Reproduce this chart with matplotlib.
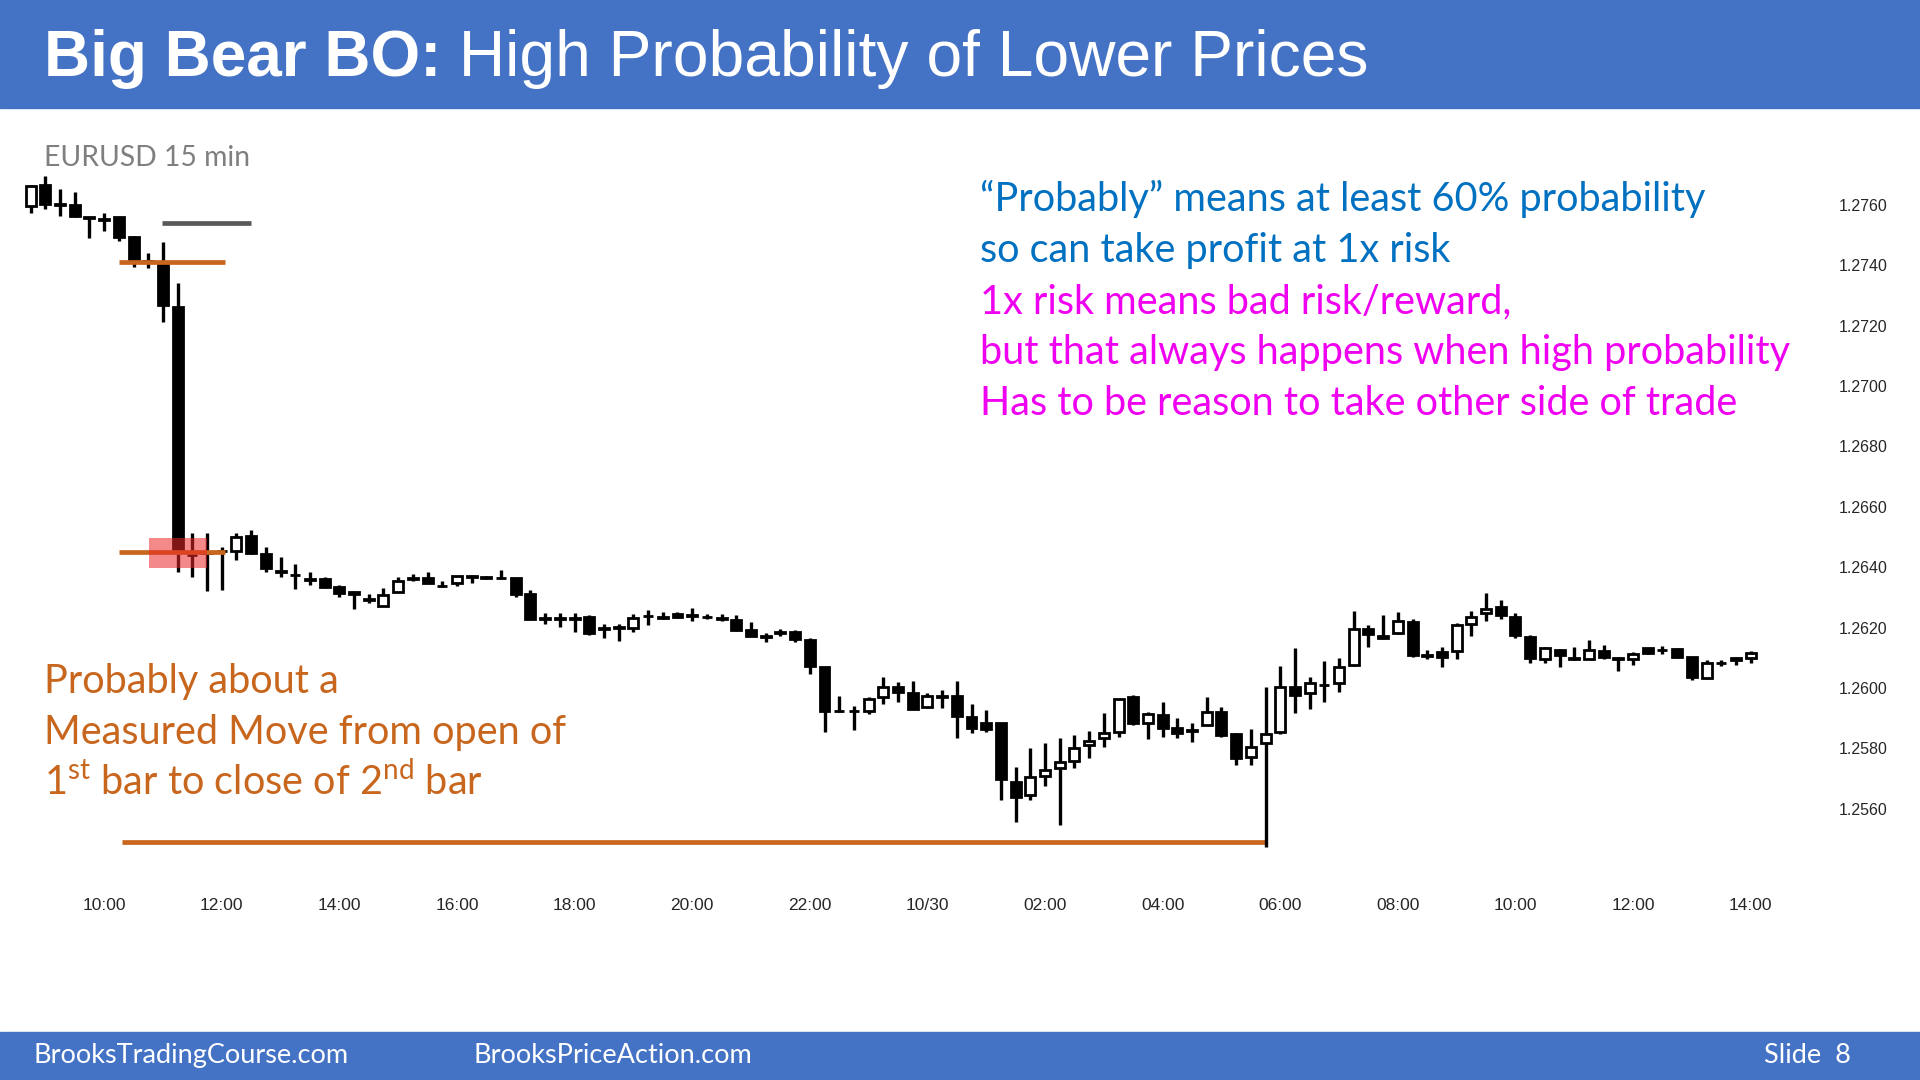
import matplotlib

matplotlib.use("Agg")
import matplotlib.pyplot as plt
import pandas as pd
from matplotlib.patches import Rectangle

# EURUSD 15 min bars, 08:45 on 10/29 to 14:00 on 10/30
OPEN = [1.27596, 1.27666, 1.27601, 1.27599, 1.27558, 1.27553, 1.27558, 1.27492, 1.27413, 1.27406,
        1.27263, 1.26441, 1.26447, 1.26455, 1.26455, 1.26503, 1.26444, 1.26388, 1.26375, 1.26361,
        1.26360, 1.26336, 1.26318, 1.26294, 1.26272, 1.26319, 1.26364, 1.26365, 1.26339, 1.26347,
        1.26371, 1.26368, 1.26363, 1.26363, 1.26310, 1.26231, 1.26231, 1.26232, 1.26236, 1.26199,
        1.26201, 1.26198, 1.26239, 1.26235, 1.26244, 1.26242, 1.26236, 1.26232, 1.26225, 1.26192,
        1.26171, 1.26184, 1.26186, 1.26159, 1.26068, 1.25923, 1.25925, 1.25925, 1.25971, 1.26004,
        1.25982, 1.25936, 1.25972, 1.25973, 1.25905, 1.25883, 1.25883, 1.25690, 1.25646, 1.25709,
        1.25734, 1.25758, 1.25811, 1.25833, 1.25855, 1.25969, 1.25883, 1.25911, 1.25866, 1.25862,
        1.25878, 1.25922, 1.25848, 1.25771, 1.25817, 1.25855, 1.26002, 1.25985, 1.26011, 1.26016,
        1.26076, 1.26194, 1.26172, 1.26181, 1.26220, 1.26108, 1.26120, 1.26124, 1.26211, 1.26247,
        1.26269, 1.26236, 1.26168, 1.26095, 1.26126, 1.26095, 1.26097, 1.26124, 1.26099, 1.26096,
        1.26131, 1.26127, 1.26128, 1.26101, 1.26033, 1.26082, 1.26098, 1.26098]
HIGH = [1.27665, 1.27696, 1.27652, 1.27641, 1.27560, 1.27572, 1.27561, 1.27497, 1.27439, 1.27476,
        1.27342, 1.26512, 1.26512, 1.26468, 1.26514, 1.26523, 1.26466, 1.26433, 1.26409, 1.26385,
        1.26368, 1.26341, 1.26320, 1.26310, 1.26330, 1.26369, 1.26377, 1.26383, 1.26354, 1.26371,
        1.26373, 1.26370, 1.26392, 1.26365, 1.26324, 1.26247, 1.26247, 1.26247, 1.26242, 1.26212,
        1.26213, 1.26245, 1.26258, 1.26250, 1.26252, 1.26266, 1.26244, 1.26244, 1.26242, 1.26220,
        1.26181, 1.26194, 1.26191, 1.26164, 1.26070, 1.25973, 1.25941, 1.25971, 1.26037, 1.26020,
        1.26024, 1.25984, 1.25993, 1.26024, 1.25947, 1.25927, 1.25885, 1.25740, 1.25800, 1.25819,
        1.25833, 1.25844, 1.25859, 1.25918, 1.25962, 1.25976, 1.25922, 1.25955, 1.25900, 1.25883,
        1.25969, 1.25938, 1.25850, 1.25863, 1.26002, 1.26073, 1.26131, 1.26036, 1.26091, 1.26098,
        1.26255, 1.26208, 1.26242, 1.26251, 1.26227, 1.26126, 1.26137, 1.26214, 1.26255, 1.26316,
        1.26291, 1.26249, 1.26175, 1.26137, 1.26128, 1.26135, 1.26160, 1.26141, 1.26101, 1.26120,
        1.26134, 1.26139, 1.26131, 1.26103, 1.26093, 1.26093, 1.26104, 1.26124]
LOW = [1.27574, 1.27586, 1.27564, 1.27561, 1.27491, 1.27513, 1.27481, 1.27395, 1.27390, 1.27213,
       1.26385, 1.26366, 1.26322, 1.26323, 1.26424, 1.26444, 1.26385, 1.26366, 1.26327, 1.26341,
       1.26331, 1.26302, 1.26262, 1.26280, 1.26270, 1.26319, 1.26354, 1.26347, 1.26336, 1.26339,
       1.26347, 1.26362, 1.26360, 1.26302, 1.26225, 1.26212, 1.26203, 1.26184, 1.26175, 1.26165,
       1.26157, 1.26187, 1.26208, 1.26229, 1.26233, 1.26223, 1.26228, 1.26221, 1.26190, 1.26172,
       1.26153, 1.26172, 1.26153, 1.26045, 1.25855, 1.25921, 1.25861, 1.25914, 1.25947, 1.25955,
       1.25930, 1.25933, 1.25933, 1.25833, 1.25852, 1.25855, 1.25629, 1.25555, 1.25629, 1.25675,
       1.25546, 1.25734, 1.25767, 1.25804, 1.25837, 1.25878, 1.25831, 1.25837, 1.25833, 1.25822,
       1.25878, 1.25837, 1.25745, 1.25745, 1.25475, 1.25848, 1.25916, 1.25930, 1.25955, 1.25986,
       1.26073, 1.26135, 1.26162, 1.26179, 1.26104, 1.26095, 1.26071, 1.26095, 1.26172, 1.26223,
       1.26227, 1.26164, 1.26082, 1.26082, 1.26068, 1.26093, 1.26095, 1.26096, 1.26057, 1.26076,
       1.26113, 1.26113, 1.26099, 1.26027, 1.26031, 1.26073, 1.26076, 1.26082]
CLOSE = [1.27663, 1.27601, 1.27598, 1.27563, 1.27555, 1.27551, 1.27494, 1.27417, 1.27411, 1.27268,
         1.26457, 1.26439, 1.26450, 1.26453, 1.26501, 1.26446, 1.26396, 1.26385, 1.26373, 1.26359,
         1.26336, 1.26316, 1.26312, 1.26292, 1.26308, 1.26354, 1.26362, 1.26347, 1.26337, 1.26371,
         1.26368, 1.26365, 1.26365, 1.26310, 1.26227, 1.26229, 1.26229, 1.26230, 1.26181, 1.26197,
         1.26199, 1.26231, 1.26237, 1.26232, 1.26235, 1.26240, 1.26234, 1.26230, 1.26192, 1.26173,
         1.26169, 1.26182, 1.26161, 1.26073, 1.25925, 1.25925, 1.25923, 1.25962, 1.26004, 1.25988,
         1.25930, 1.25973, 1.25970, 1.25907, 1.25866, 1.25863, 1.25698, 1.25638, 1.25704, 1.25729,
         1.25754, 1.25800, 1.25825, 1.25850, 1.25962, 1.25883, 1.25914, 1.25866, 1.25850, 1.25859,
         1.25920, 1.25844, 1.25767, 1.25806, 1.25848, 1.26002, 1.25977, 1.26016, 1.26009, 1.26071,
         1.26194, 1.26179, 1.26164, 1.26222, 1.26109, 1.26106, 1.26104, 1.26209, 1.26236, 1.26261,
         1.26242, 1.26175, 1.26099, 1.26131, 1.26109, 1.26099, 1.26127, 1.26104, 1.26096, 1.26111,
         1.26115, 1.26126, 1.26104, 1.26035, 1.26082, 1.26083, 1.26093, 1.26117]

Y_TICKS = [1.2560, 1.2580, 1.2600, 1.2620, 1.2640, 1.2660, 1.2680, 1.2700, 1.2720, 1.2740, 1.2760]

# breakout bars: open of the 1st, close of the 2nd, and the measured move below
BO_OPEN = 1.27412
BO_CLOSE = 1.26451
MM_TARGET = BO_CLOSE - (BO_OPEN - BO_CLOSE)
STOP_LEVEL = 1.27541
ENTRY_ZONE = (1.26397, 1.26496)

BLUE_TEXT = ["\u201cProbably\u201d means at least 60% probability", "so can take profit at 1x risk"]
PINK_TEXT = ["1x risk means bad risk/reward,", "but that always happens when high probability",
             "Has to be reason to take other side of trade"]
ORANGE_TEXT = ["Probably about a", "Measured Move from open of",
               r"1$^{\mathrm{st}}$ bar to close of 2$^{\mathrm{nd}}$ bar"]

BAR_BLUE = "#4472c4"
ORANGE = "#c8661e"
W, H = 1920, 1080

plt.rcParams["mathtext.fontset"] = "custom"
plt.rcParams["mathtext.rm"] = "Lato"
CAL = "Lato"


def fx(x):
    return x / W


def fy(y):
    return 1 - y / H


fig = plt.figure(figsize=(19.2, 10.8), dpi=100)
fig.patch.set_facecolor("white")

# header / footer bands
fig.add_artist(Rectangle((0, fy(108)), 1, 108 / H, transform=fig.transFigure, color=BAR_BLUE, zorder=0))
fig.add_artist(Rectangle((0, 0), 1, 48 / H, transform=fig.transFigure, color=BAR_BLUE, zorder=0))

t1 = fig.text(fx(44), fy(76), "Big Bear BO:", color="white", fontsize=46, fontweight="bold",
              family="Liberation Sans", va="baseline")
fig.canvas.draw()
bb = t1.get_window_extent()
fig.text(bb.x1 / W, fy(76), " High Probability of Lower Prices", color="white", fontsize=46.2,
         family="Liberation Sans", va="baseline")

fig.text(fx(34), fy(1063), "BrooksTradingCourse.com", color="white", fontsize=19.5, family=CAL, va="baseline")
fig.text(fx(474), fy(1063), "BrooksPriceAction.com", color="white", fontsize=19.5, family=CAL, va="baseline")
fig.text(fx(1851), fy(1063), "Slide  8", color="white", fontsize=19.5, family=CAL, va="baseline", ha="right")

fig.text(fx(44), fy(166), "EURUSD 15 min", color="#7f7f7f", fontsize=20.3, family=CAL, va="baseline")

for k, line in enumerate(BLUE_TEXT):
    fig.text(fx(980), fy(211 + 51 * k), line, color="#0070c0", fontsize=28.5, family=CAL, va="baseline")
for k, line in enumerate(PINK_TEXT):
    fig.text(fx(980), fy(313 + 51 * k), line, color="#f000f0", fontsize=28.5, family=CAL, va="baseline")
for k, line in enumerate(ORANGE_TEXT):
    fig.text(fx(44), fy(693 + 51 * k), line, color=ORANGE, fontsize=28.5, family=CAL, va="baseline")

# price chart
ax = fig.add_axes([0, fy(870), 1800 / W, (870 - 108) / H])
ax.patch.set_alpha(0)
for s in ax.spines.values():
    s.set_visible(False)

n = len(OPEN)
for i in range(n):
    o, h, l, c = OPEN[i], HIGH[i], LOW[i], CLOSE[i]
    ax.vlines(i, l, h, color="black", lw=2.4, zorder=2)
    face = "white" if c > o else "black"
    ax.add_patch(Rectangle((i - 0.34, min(o, c)), 0.68, abs(c - o), facecolor=face,
                           edgecolor="black", lw=2.0, zorder=3))

ax.hlines(STOP_LEVEL, 8.93, 15.0, color="#595959", lw=3.4, zorder=4)
ax.hlines(BO_OPEN, 6.0, 13.2, color=ORANGE, lw=3.4, zorder=4)
ax.hlines(BO_CLOSE, 6.0, 13.2, color=ORANGE, lw=3.4, zorder=4)
ax.hlines(MM_TARGET, 6.2, 84, color=ORANGE, lw=3.4, zorder=1)
ax.add_patch(Rectangle((8.05, ENTRY_ZONE[0]), 3.95, ENTRY_ZONE[1] - ENTRY_ZONE[0],
                       facecolor="#eb2828", alpha=0.55, lw=0, zorder=5))

ax.set_xlim(-2.088, 120.36)
ax.set_ylim(1.2539735, 1.2792053)

times = pd.date_range("2012-10-29 08:45", periods=n, freq="15min")
xt = [i for i, t in enumerate(times) if t.minute == 0 and t.hour % 2 == 0]
xl = ["10/30" if times[i].hour == 0 else times[i].strftime("%H:%M") for i in xt]
ax.set_xticks(xt, xl)
ax.set_yticks(Y_TICKS, [f"{v:.4f}" for v in Y_TICKS])
ax.yaxis.tick_right()
ax.tick_params(axis="both", length=0, colors="#262626")
ax.tick_params(axis="x", pad=20, labelsize=12.5)
ax.tick_params(axis="y", pad=28, labelsize=11.5)
for lab in ax.get_xticklabels():
    lab.set_family(["Liberation Sans Narrow", "Liberation Sans"])
for lab in ax.get_yticklabels():
    lab.set_family("Liberation Sans")

fig.savefig("out.png", dpi=100)
